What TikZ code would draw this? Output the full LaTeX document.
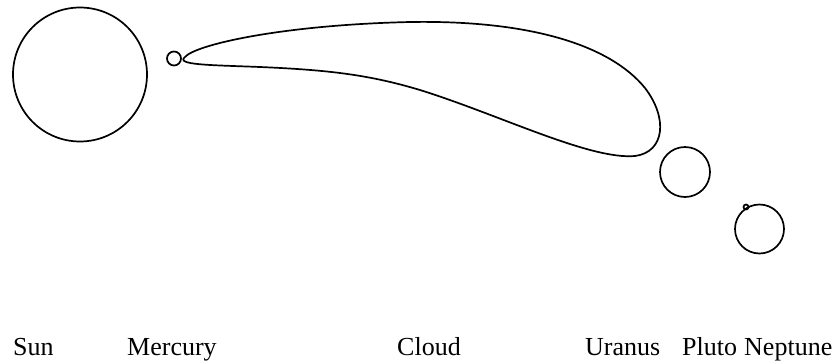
\documentclass[tikz,border=0pt]{standalone}
\usepackage{fontspec}
\setmainfont{Liberation Serif}
\usepackage{tikz}
\usetikzlibrary{positioning}
\tikzset{
  planet/.style={circle, draw, line width=1.7bp, inner sep=0pt, outer sep=0pt},
  outline/.style={line width=1.7bp},
  planetname/.style={anchor=base west, inner sep=0pt, font=\fontsize{26bp}{30bp}\selectfont}
}

\begin{document}
\begin{tikzpicture}[x=1bp, y=-1bp]
\useasboundingbox (0,0) rectangle (835,363);

\node (sun)     [planet, minimum size=134bp] at (80,74.5) {};
\node (mercury) [planet, minimum size=14bp]  at (174,58.5) {};
\node (uranus)  [planet, minimum size=50bp]  at (685,172) {};
\node (neptune) [planet, minimum size=49bp]  at (759.5,229) {};
\node (pluto)   [planet, minimum size=5bp]   at (746,207) {};

% cloud
\draw[outline] (185,57)
  .. controls (195,45) and (280,25) .. (410,22)
  .. controls (530,20) and (610,45) .. (645,88)
  .. controls (668,118) and (665,152) .. (635,156)
  .. controls (590,160) and (500,115) .. (420,90)
  .. controls (370,75) and (330,70) .. (260,67)
  .. controls (210,65) and (175,65) .. (185,57) -- cycle;

\foreach \nm/\x/\txt in {sunname/13/Sun, mercuryname/127/Mercury, cloudname/397/Cloud,
                         uranusname/585/Uranus, plutoname/682/Pluto, neptunename/744/Neptune}{
  \node (\nm) [planetname] at (\x,355) {\txt};
}

\end{tikzpicture}
\end{document}
